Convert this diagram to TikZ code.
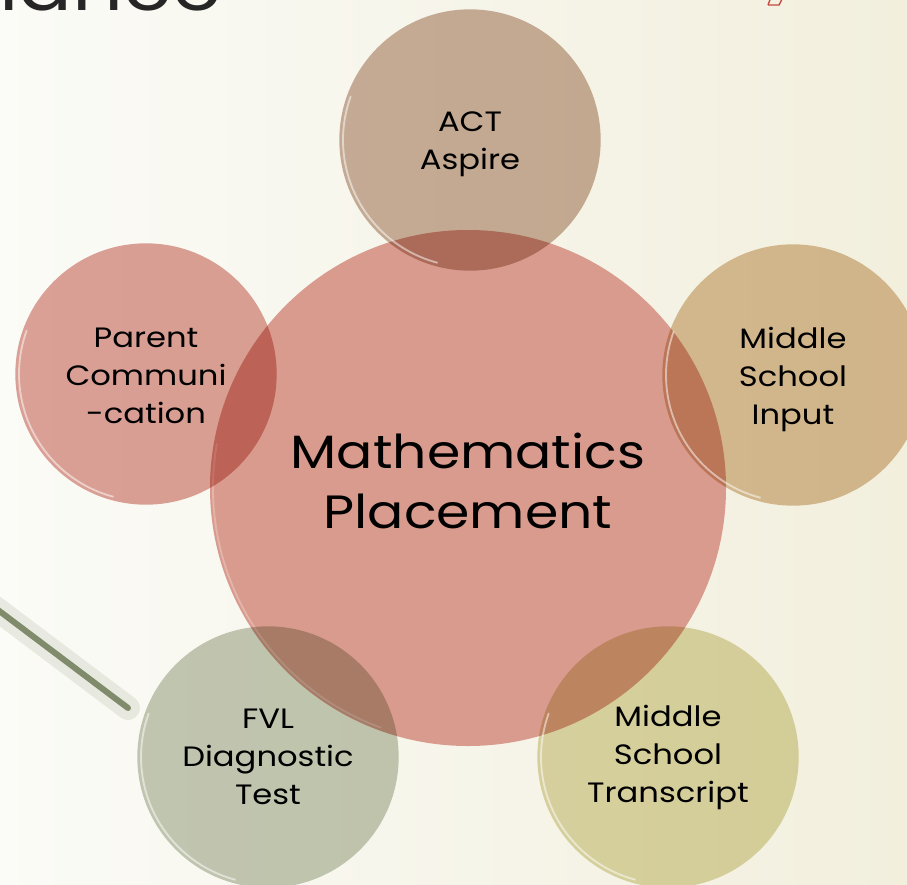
\documentclass[tikz,border=0pt]{standalone}
\usepackage{fontspec}
\setmainfont{Poppins}[FakeStretch=1.15]
\usetikzlibrary{positioning}

\definecolor{bgleft}{HTML}{FBFBF7}
\definecolor{bgright}{HTML}{F2EFDD}
\definecolor{mathred}{HTML}{D99B8E}
\definecolor{actbrown}{HTML}{BFA08B}
\definecolor{inputtan}{HTML}{D5B48A}
\definecolor{parentred}{HTML}{D78F85}
\definecolor{fvlgreen}{HTML}{B9BFAA}
\definecolor{transyellow}{HTML}{D8D29C}
\definecolor{linegreen}{HTML}{7F8B6B}
\definecolor{markred}{HTML}{C8473A}

\tikzset{
  bubble/.style={circle, inner sep=0pt, minimum size=196pt,
    blend mode=multiply, fill opacity=0.82},
  caption/.style={align=center, inner sep=0pt, font=\fontsize{21}{28.5}\selectfont},
  hub/.style={circle, inner sep=0pt, minimum size=387pt, align=center,
    font=\fontsize{35}{45}\selectfont, fill=mathred},
  rim/.style={white, line width=1.4pt, opacity=0.5, line cap=round}
}

\begin{document}
\begin{tikzpicture}[x=0.75pt, y=-0.75pt]
  \useasboundingbox (0,0) rectangle (907,885);
  % background
  \shade[left color=bgleft, right color=bgright] (0,0) rectangle (907,885);

  % remains of the slide title
  \begin{scope}
    \clip (0,0) rectangle (907,885);
    \node[anchor=base east, inner sep=0pt, font=\fontsize{52}{52}\selectfont,
      text=black!85] (title) at (222,10) {nance};
    \draw[markred, line width=1pt] (768,5) -- (779,5) -- (783,-3);
    \draw[markred, line width=1pt] (768,5) -- (771,-3);
  \end{scope}

  % pointer line
  \coordinate (lineA) at (-6,607);
  \coordinate (lineB) at (128,708);
  \draw[linegreen, line width=18pt, opacity=0.15, line cap=round] (lineA) -- (lineB);
  \draw[linegreen, line width=4.5pt, line cap=round] (lineA) -- (lineB);

  % centre
  \node[hub] (math) at (468,488) {};
  \node[align=center, inner sep=0pt, font=\fontsize{35}{45}\selectfont]
    (mathtext) at ([yshift=5pt]math.center) {Mathematics\\Placement};
  \draw[rim, opacity=0.25] ([shift={(110:255)}]math.center) arc[start angle=110, end angle=190, radius=255];

  % the five inputs
  \node[bubble, fill=actbrown] (act) at (470,140) {};
  \node[bubble, fill=inputtan] (input) at (793,375) {};
  \node[bubble, fill=parentred] (parent) at (146,374) {};
  \node[bubble, fill=fvlgreen] (fvl) at (268,757) {};
  \node[bubble, fill=transyellow] (transcript) at (668,757) {};

  % glassy rims
  \foreach \b in {act,input,parent,fvl,transcript}
    \draw[rim] ([shift={(105:127)}]\b.center) arc[start angle=105, end angle=200, radius=127];

  % texts
  \node[caption] (acttext) at ([yshift=-3pt]act.center) {ACT\\Aspire};
  \node[caption] (inputtext) at ([yshift=-3.5pt]input.center) {Middle\\School\\Input};
  \node[caption] (parenttext) at ([yshift=-1.5pt]parent.center) {Parent\\Communi\\-cation};
  \node[caption] (fvltext) at (fvl.center) {FVL\\Diagnostic\\Test};
  \node[caption] (transcripttext) at (transcript.center) {Middle\\School\\Transcript};
\end{tikzpicture}
\end{document}
